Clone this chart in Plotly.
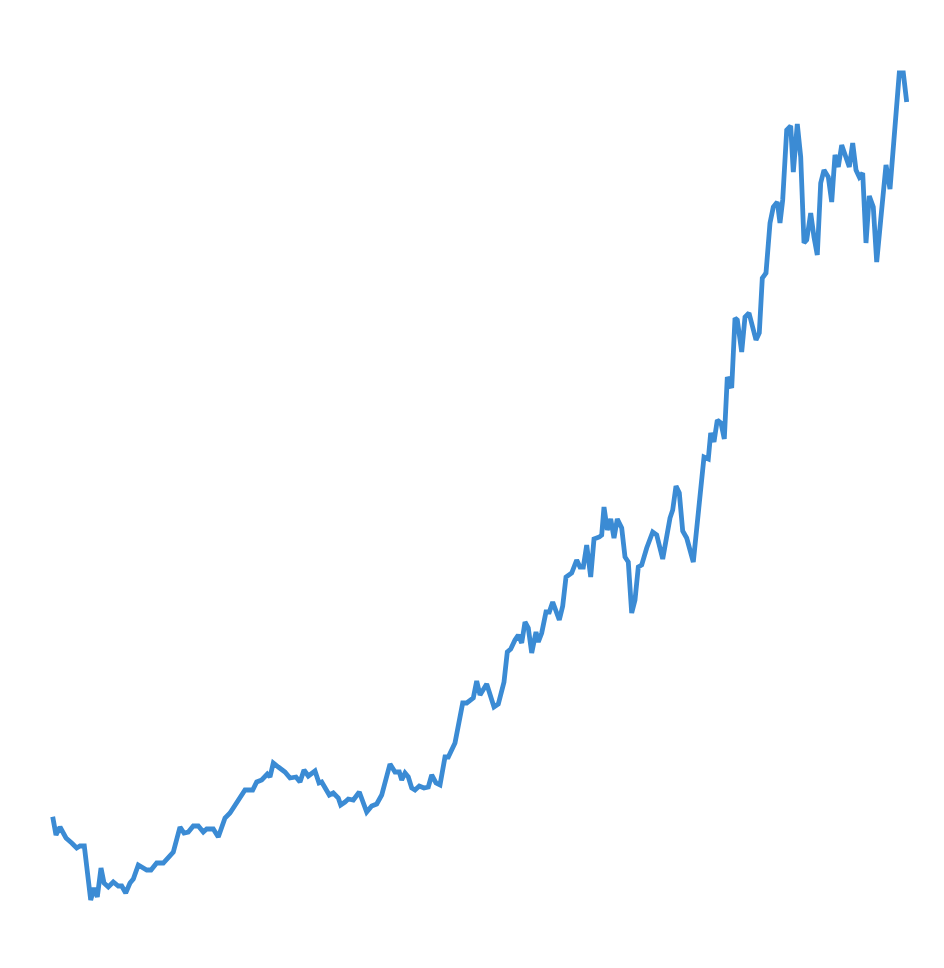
import plotly.graph_objects as go

# Horizontal position (time index) and value
t = [52.7, 56, 60, 66, 71.7, 76.7, 80, 84.3, 90.7, 94, 97.3, 101, 104, 108.3, 113.3, 118.3, 121.7, 125.7,
     130, 133.3, 138.3, 146.7, 151, 156.7, 163.3, 168.3, 173.3, 180, 184, 188.3, 193.3, 198.3, 203.3, 206.7,
     213.3, 218.3, 225, 230, 235, 240, 245, 252.7, 256.7, 261.7, 267.3, 270, 273.3, 278.3, 285, 290, 296,
     300, 304, 308.3, 315, 319, 321.7, 329.3, 333.3, 338.3, 340.7, 345, 348.3, 353.3, 359.3, 366.7, 371.7,
     376.7, 381.7, 390, 395, 399.3, 401.7, 405, 408.3, 411.7, 415, 419.3, 424, 428.3, 431.7, 436, 440,
     445, 448.3, 455, 458.3, 462.7, 466.7, 473.3, 476.7, 480, 486.7, 494, 498.3, 504, 507.3, 510.7, 515,
     518.3, 521.7, 525, 528.3, 531.7, 536, 538.3, 541.7, 546, 549.3, 552.7, 559.3, 562.7, 566, 571.7,
     576.7, 580, 583.3, 586.7, 590.7, 594, 599.3, 601.7, 604, 607.3, 610.7, 614, 617.3, 621.7, 625, 628.3,
     631.7, 635, 638.3, 641.7, 646.7, 652.7, 656.7, 662.7, 670, 672.7, 676, 679.3, 682.7, 686.7, 693.3,
     698.3, 701.7, 704, 708.3, 710.7, 714, 717.3, 721, 724.3, 727.3, 731.7, 735, 737.3, 741.7, 745, 749,
     752.7, 756, 759.3, 762.3, 766, 770, 773.3, 777.3, 780, 782.7, 786.7, 790.7, 793.3, 797.3, 800.7, 804,
     806.7, 810.7, 814, 817.3, 820.7, 824, 828.3, 831.7, 835, 838.3, 841.7, 846, 849.3, 852.7, 856, 859.3,
     862.7, 866, 869.3, 873.3, 876.7, 880.7, 886, 890, 894, 899.3, 903.3, 906.7]

y_px = [816.7, 835, 827, 838, 843, 848, 846, 846, 900, 888, 897, 868, 883, 887, 882, 886, 886, 893,
        883, 879, 865, 870, 870, 863, 863, 857, 852, 827, 833, 832, 826, 826, 832, 829,
        829, 837, 818, 813, 805, 797, 790, 790, 782, 780, 774, 777, 763, 767, 772, 778, 777,
        782, 770, 776, 771, 783, 782, 795, 793, 798, 805, 802, 799, 800, 792, 812, 806,
        804, 795, 764, 772, 772, 780, 773, 777, 788, 790, 786, 788, 787, 775, 783, 785,
        757, 757, 743, 727, 703, 703, 698, 681, 695, 684, 707, 704, 682, 652, 649, 640,
        635, 643, 622, 628, 653, 632, 642, 633, 612, 612, 602, 620, 606, 577, 573,
        560, 567, 567, 545, 577, 539, 537, 535, 507, 530, 519, 538, 519, 528, 557, 562,
        613, 600, 567, 565, 548, 532, 535, 559, 518, 510, 486, 493, 531, 538, 562,
        507, 477, 457, 459, 433, 442, 420, 423, 439, 377, 388, 318, 320, 352, 317, 313,
        330, 340, 333, 278, 273, 223, 207, 202, 223, 200, 130, 126, 172, 124, 157, 243,
        240, 213, 237, 255, 183, 170, 177, 202, 155, 167, 145, 157, 167, 143, 170, 177,
        173, 243, 196, 207, 262, 220, 165, 189, 143, 73, 73, 102]

value = [968 - v for v in y_px]

fig = go.Figure(go.Scatter(x=t, y=value, mode="lines",
                           line=dict(color="#3b8bd4", width=4.8), hoverinfo="skip"))
fig.update_layout(width=944, height=968, autosize=False,
                  margin=dict(l=0, r=0, t=0, b=0),
                  paper_bgcolor="white", plot_bgcolor="white", showlegend=False)
fig.update_xaxes(range=[8, 952], visible=False)
fig.update_yaxes(range=[-8, 960], visible=False)
fig.write_html("out.html")
